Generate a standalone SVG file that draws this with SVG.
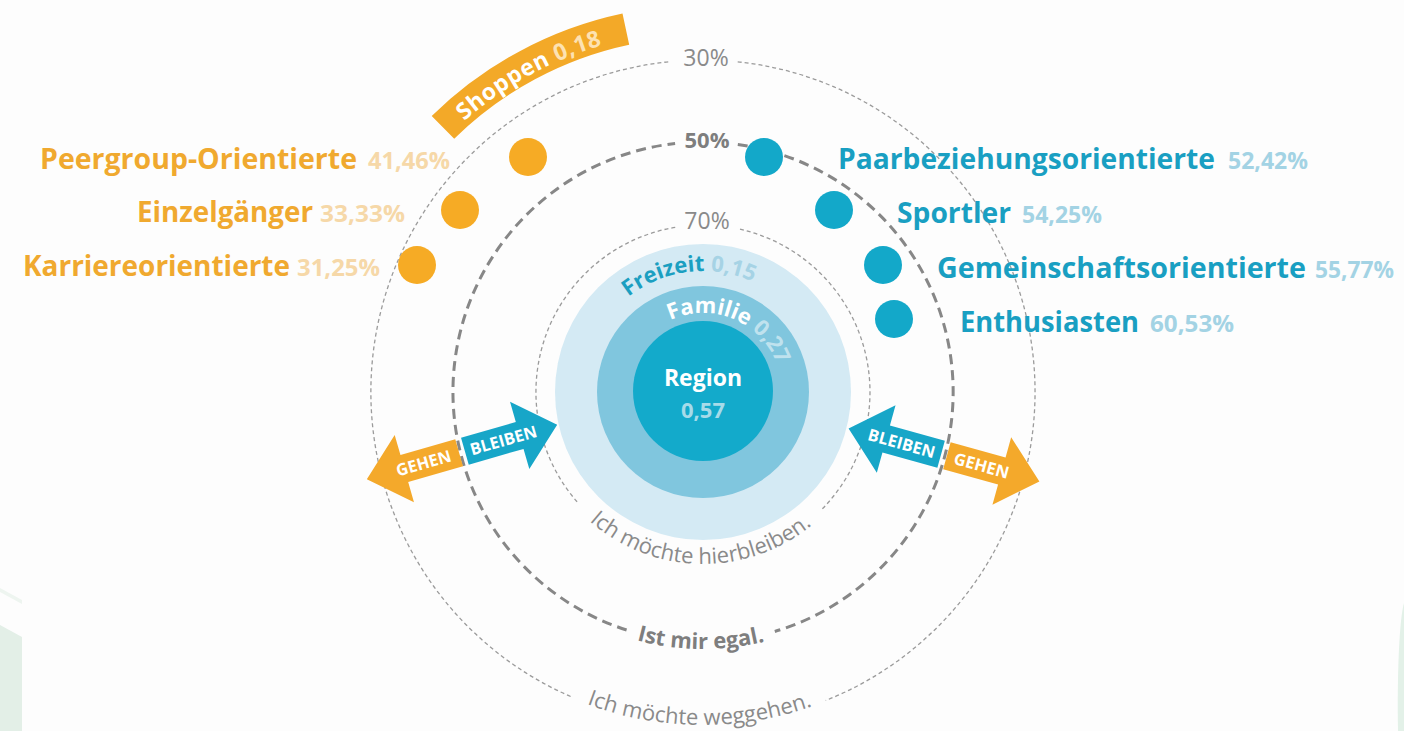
<svg xmlns="http://www.w3.org/2000/svg" xmlns:xlink="http://www.w3.org/1999/xlink" width="1404" height="731" viewBox="0 0 1404 731">
<style>
text{font-family:"Open Sans","Liberation Sans",sans-serif}
.thin{fill:none;stroke:#9b9b9b;stroke-width:1.3;stroke-dasharray:4 3}
.thick{fill:none;stroke:#878787;stroke-width:3;stroke-dasharray:10 6}
.name{font-size:28px;font-weight:700}
.pct{font-size:23px;font-weight:700}
.or{fill:#f0a92f}.orl{fill:#f6d8a8}.bl{fill:#199fc2}.bll{fill:#a3d3e4}
.odot{fill:#f6ab25}.bdot{fill:#13a8c9}
.rl{font-size:23px;fill:#8a8a8a;text-anchor:middle}
.arc{font-size:22px;fill:#8a8a8a}
.at{font-size:16.5px;font-weight:700;fill:#fff;text-anchor:middle}
.oarr{fill:#f4a92b}.barr{fill:#17a6c8}
</style>
<defs>
<path id="pShop" d="M 423.4 163.6 A 361 361 0 0 1 660.6 33.5"/>
<path id="pFrei" d="M 628.5 296.7 A 121 121 0 0 1 816.7 433.4"/>
<path id="pFam" d="M 670.2 320.1 A 79 79 0 0 1 763.5 442.8"/>
<path id="pHier" d="M 552.6 475.4 A 172 172 0 0 0 850.4 480.6"/>
<path id="pEgal" d="M 536.1 587.4 A 257 257 0 0 0 866.5 590.3"/>
<path id="pWeg" d="M 533.4 678.7 A 333 333 0 0 0 866.4 681.8"/>
</defs>
<rect width="1404" height="731" fill="#fdfdfd"/>
<g id="decor">
<polygon points="0,625 22,637 22,731 0,731" fill="#e3efe7"/>
<polygon points="0,588 22,600 22,604 0,592" fill="#eef5f0"/>
<path d="M1404,603 C1399,620 1397,680 1398,731 L1404,731 Z" fill="#e3f1e8"/>
</g>
<g id="connectors">
<g id="ring-30">
<path class="thin" d="M 737.7 61.8 A 332 332 0 0 1 825.7 700.5"/>
<path class="thin" d="M 570.6 696.5 A 332 332 0 0 1 671.2 61.5"/>
<text class="rl" x="706" y="66">30%</text>
<text class="arc"><textPath xlink:href="#pWeg" href="#pWeg" startOffset="50%" text-anchor="middle">Ich möchte weggehen.</textPath></text>
</g>
<g id="ring-50">
<path class="thick" d="M 737.8 144.4 A 250 250 0 0 1 774.8 631.5"/>
<path class="thick" d="M 626.6 630 A 250 250 0 0 1 675.1 143.5"/>
<text class="rl" x="707" y="148" style="font-size:22px;font-weight:700;fill:#7e7e7e">50%</text>
<text class="arc" style="font-weight:700;fill:#7e7e7e"><textPath xlink:href="#pEgal" href="#pEgal" startOffset="50%" text-anchor="middle">Ist mir egal.</textPath></text>
</g>
<g id="ring-70">
<path class="thin" d="M 740 229.2 A 167 167 0 0 1 821.5 509.7"/>
<path class="thin" d="M 577.1 501.8 A 167 167 0 0 1 676 227.2"/>
<text class="rl" x="707" y="229">70%</text>
<text class="arc"><textPath xlink:href="#pHier" href="#pHier" startOffset="50%" text-anchor="middle">Ich möchte hierbleiben.</textPath></text>
</g>
</g>
<g id="core">
<circle cx="703" cy="392" r="148" fill="#d4eaf4"/>
<circle cx="703" cy="392" r="106" fill="#80c6de"/>
<circle cx="703" cy="391" r="70" fill="#13aacb"/>
<text style="font-size:22px;font-weight:700"><textPath xlink:href="#pFrei" href="#pFrei"><tspan fill="#1b9fc1">Freizeit</tspan><tspan fill="#a6d3e5"> 0,15</tspan></textPath></text>
<text style="font-size:22px;font-weight:700"><textPath xlink:href="#pFam" href="#pFam"><tspan fill="#ffffff">Familie</tspan><tspan fill="#bfe2ee"> 0,27</tspan></textPath></text>
<text x="703" y="386" text-anchor="middle" style="font-size:23px;font-weight:700" fill="#ffffff">Region</text>
<text x="703" y="418" text-anchor="middle" style="font-size:22px;font-weight:700" fill="#a6dbe9">0,57</text>
</g>
<g id="shoppen">
<path d="M 454.2 138.8 L 431.7 116 A 387 387 0 0 1 622.5 13.5 L 629.2 44.8 A 355 355 0 0 0 454.2 138.8 Z" fill="#f3a928"/>
<text style="font-size:23px;font-weight:700;letter-spacing:0.6px"><textPath xlink:href="#pShop" href="#pShop" startOffset="50%" text-anchor="middle"><tspan fill="#ffffff">Shoppen</tspan><tspan fill="#fde2b2"> 0,18</tspan></textPath></text>
</g>
<g id="peergroup">
<circle class="odot" cx="528" cy="157" r="19"/>
<text class="name or" x="40" y="169" textLength="317" lengthAdjust="spacingAndGlyphs">Peergroup-Orientierte</text>
<text class="pct orl" x="368" y="169" textLength="82" lengthAdjust="spacingAndGlyphs">41,46%</text>
</g>
<g id="einzelgaenger">
<circle class="odot" cx="460" cy="210" r="19"/>
<text class="name or" x="137" y="222" textLength="176" lengthAdjust="spacingAndGlyphs">Einzelgänger</text>
<text class="pct orl" x="320" y="222" textLength="85" lengthAdjust="spacingAndGlyphs">33,33%</text>
</g>
<g id="karriere">
<circle class="odot" cx="417" cy="265" r="19"/>
<text class="name or" x="23" y="276" textLength="267" lengthAdjust="spacingAndGlyphs">Karriereorientierte</text>
<text class="pct orl" x="297" y="276" textLength="83" lengthAdjust="spacingAndGlyphs">31,25%</text>
</g>
<g id="paarbeziehung">
<circle class="bdot" cx="764" cy="157" r="19"/>
<text class="name bl" x="838" y="169" textLength="377" lengthAdjust="spacingAndGlyphs">Paarbeziehungsorientierte</text>
<text class="pct bll" x="1228" y="169" textLength="80" lengthAdjust="spacingAndGlyphs">52,42%</text>
</g>
<g id="sportler">
<circle class="bdot" cx="834" cy="210" r="19"/>
<text class="name bl" x="897" y="223" textLength="114" lengthAdjust="spacingAndGlyphs">Sportler</text>
<text class="pct bll" x="1022" y="223" textLength="80" lengthAdjust="spacingAndGlyphs">54,25%</text>
</g>
<g id="gemeinschaft">
<circle class="bdot" cx="883" cy="265" r="19"/>
<text class="name bl" x="937" y="278" textLength="369" lengthAdjust="spacingAndGlyphs">Gemeinschaftsorientierte</text>
<text class="pct bll" x="1315" y="278" textLength="79" lengthAdjust="spacingAndGlyphs">55,77%</text>
</g>
<g id="enthusiasten">
<circle class="bdot" cx="894" cy="319" r="19"/>
<text class="name bl" x="960" y="332" textLength="179" lengthAdjust="spacingAndGlyphs">Enthusiasten</text>
<text class="pct bll" x="1150" y="332" textLength="84" lengthAdjust="spacingAndGlyphs">60,53%</text>
</g>
<g id="arrows-left" transform="translate(462,452) rotate(-16)">
<polygon class="oarr" points="-3,-14 -60,-14 -60,-35 -99,0 -60,35 -60,14 -3,14"/>
<polygon class="barr" points="3,-14 60,-14 60,-35 99,0 60,35 60,14 3,14"/>
<text class="at" x="-40" y="6">GEHEN</text>
<text class="at" x="43" y="6">BLEIBEN</text>
</g>
<g id="arrows-right" transform="translate(944,455) rotate(15.5)">
<polygon class="barr" points="-3,-14 -60,-14 -60,-35 -99,0 -60,35 -60,14 -3,14"/>
<polygon class="oarr" points="3,-14 60,-14 60,-35 99,0 60,35 60,14 3,14"/>
<text class="at" x="-44" y="6">BLEIBEN</text>
<text class="at" x="39" y="6">GEHEN</text>
</g>
</svg>
